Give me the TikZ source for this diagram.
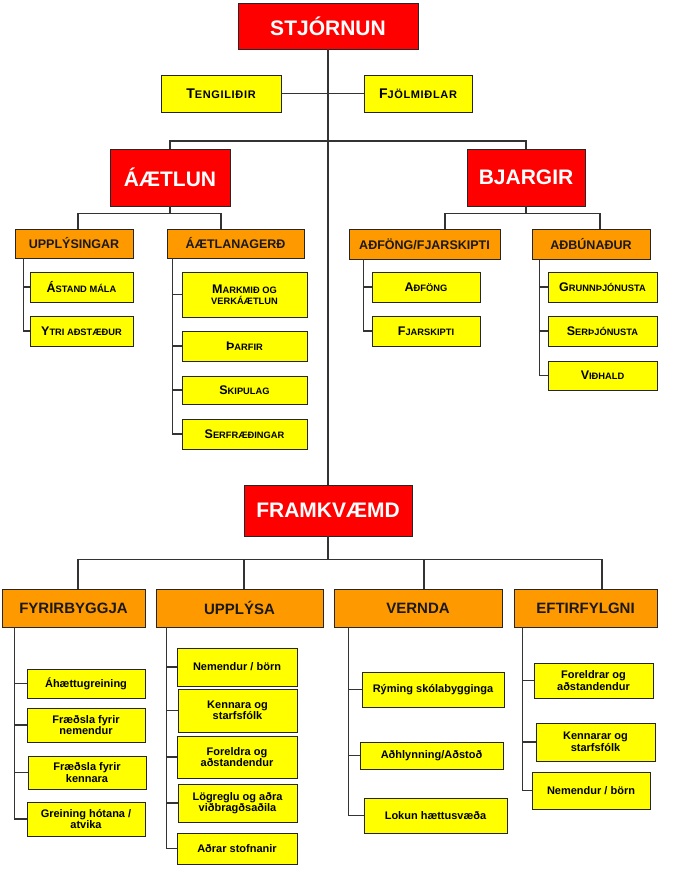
\documentclass[tikz,border=0pt]{standalone}
\usepackage{fontspec}
\setmainfont{Liberation Sans}
\definecolor{boxred}{RGB}{255,0,0}
\definecolor{boxorange}{RGB}{255,153,0}
\definecolor{boxyellow}{RGB}{255,255,0}
\newcommand{\sk}[2]{{\fontsize{12.5}{14}\selectfont #1}{\fontsize{9.3}{12}\selectfont #2}}
\newcommand{\skl}[1]{{\fontsize{9.3}{12}\selectfont #1}}
\newcommand{\skt}[2]{{\fontsize{14}{16}\selectfont #1}{\fontsize{11}{13}\selectfont\addfontfeature{LetterSpace=6}#2}}
\begin{document}
\begin{tikzpicture}[x=1pt,y=-1pt,
		line/.style={draw=black!80,line width=1.2pt},
		redbox/.style={draw=black!85,line width=0.9pt,fill=boxred,text=white,inner sep=1pt,font=\bfseries\fontsize{21}{24}\selectfont},
		orangesm/.style={draw=black!85,line width=0.9pt,fill=boxorange,text=black!90,inner sep=1pt,font=\bfseries\fontsize{12.5}{14}\selectfont},
		orangebox/.style={draw=black!85,line width=0.9pt,fill=boxorange,text=black!90,inner sep=1pt,font=\bfseries\fontsize{15}{17}\selectfont},
		yellowbox/.style={draw=black!85,line width=0.9pt,fill=boxyellow,text=black,inner sep=1pt,align=center,font=\bfseries\fontsize{11}{11.5}\selectfont}]
		\path[fill=white] (0,0) rectangle (680,888);
		\useasboundingbox (0,0) rectangle (680,888);
		\node[redbox,minimum width=180,minimum height=46] (stj) at (328,26) {STJÓRNUN};
		\node[yellowbox,minimum width=120,minimum height=37] (ten) at (221,93.5) {\skt{T}{ENGILIÐIR}};
		\node[yellowbox,minimum width=108,minimum height=37] (fjo) at (418,93.5) {\skt{F}{JÖLMIÐLAR}};
		\node[redbox,minimum width=120,minimum height=57] (aet) at (170,177.5) {ÁÆTLUN};
		\node[redbox,minimum width=118,minimum height=57] (bja) at (526,177.5) {BJARGIR};
		\node[orangesm,minimum width=118,minimum height=29] (upp) at (74,243.5) {UPPLÝSINGAR};
		\node[orangesm,minimum width=137,minimum height=29] (aeg) at (235.5,243.5) {ÁÆTLANAGERÐ};
		\node[orangesm,minimum width=151,minimum height=30] (adf) at (424.5,244) {AÐFÖNG/FJARSKIPTI};
		\node[orangesm,minimum width=118,minimum height=30] (adb) at (591,244) {AÐBÚNAÐUR};
		\node[yellowbox,minimum width=103,minimum height=30] (ast) at (81.5,287) {\sk{Á}{STAND MÁLA}};
		\node[yellowbox,minimum width=103,minimum height=30] (ytr) at (81.5,331) {\sk{Y}{TRI AÐSTÆÐUR}};
		\node[yellowbox,minimum width=125,minimum height=45] (mar) at (244.5,294.5) {\sk{M}{ARKMIÐ OG}\\\skl{VERKÁÆTLUN}};
		\node[yellowbox,minimum width=125,minimum height=30] (tha) at (244.5,346) {\sk{Þ}{ARFIR}};
		\node[yellowbox,minimum width=125,minimum height=28] (ski) at (244.5,390) {\sk{S}{KIPULAG}};
		\node[yellowbox,minimum width=125,minimum height=30] (ser) at (244.5,434) {\sk{S}{ERFRÆÐINGAR}};
		\node[yellowbox,minimum width=108,minimum height=30] (af) at (426,287) {\sk{A}{ÐFÖNG}};
		\node[yellowbox,minimum width=108,minimum height=30] (fj) at (426,331) {\sk{F}{JARSKIPTI}};
		\node[yellowbox,minimum width=109,minimum height=30] (gru) at (602.5,287) {\sk{G}{RUNNÞJÓNUSTA}};
		\node[yellowbox,minimum width=109,minimum height=30] (sth) at (602.5,331) {\sk{S}{ERÞJÓNUSTA}};
		\node[yellowbox,minimum width=109,minimum height=29] (vid) at (602.5,375.5) {\sk{V}{IÐHALD}};
		\node[redbox,minimum width=168,minimum height=51] (fra) at (328,510.5) {FRAMKVÆMD};
		\node[orangebox,minimum width=143,minimum height=38] (fyr) at (73.5,608) {FYRIRBYGGJA};
		\node[orangebox,minimum width=167,minimum height=38] (upl) at (239.5,608) {UPPLÝSA};
		\node[orangebox,minimum width=168,minimum height=38] (ver) at (418,608) {VERNDA};
		\node[orangebox,minimum width=143,minimum height=38] (eft) at (585.5,608) {EFTIRFYLGNI};
		\node[yellowbox,minimum width=118,minimum height=29] (aha) at (86,683.5) {Áhættugreining};
		\node[yellowbox,minimum width=118,minimum height=34] (fne) at (86,725) {Fræðsla fyrir\\nemendur};
		\node[yellowbox,minimum width=118,minimum height=33] (fke) at (87,772.5) {Fræðsla fyrir\\kennara};
		\node[yellowbox,minimum width=118,minimum height=34] (gre) at (86,819) {Greining hótana /\\atvika};
		\node[yellowbox,minimum width=120,minimum height=38] (nbo) at (237,667) {Nemendur / börn};
		\node[yellowbox,minimum width=119,minimum height=43] (kso) at (237.5,710.5) {Kennara og\\starfsfólk};
		\node[yellowbox,minimum width=120,minimum height=42] (fao) at (237,757) {Foreldra og\\aðstandendur};
		\node[yellowbox,minimum width=119,minimum height=38] (log) at (237.5,803) {Lögreglu og aðra\\viðbragðsaðila};
		\node[yellowbox,minimum width=120,minimum height=31] (ads) at (237,848.5) {Aðrar stofnanir};
		\node[yellowbox,minimum width=142,minimum height=35] (rym) at (433,689.5) {Rýming skólabygginga};
		\node[yellowbox,minimum width=143,minimum height=27] (adh) at (431.5,755.5) {Aðhlynning/Aðstoð};
		\node[yellowbox,minimum width=143,minimum height=35] (lok) at (435.5,815.5) {Lokun hættusvæða};
		\node[yellowbox,minimum width=119,minimum height=35] (foa) at (593.5,680.5) {Foreldrar og\\aðstandendur};
		\node[yellowbox,minimum width=119,minimum height=38] (kst) at (595.5,742) {Kennarar og\\starfsfólk};
		\node[yellowbox,minimum width=118,minimum height=37] (nem) at (591,790.5) {Nemendur / börn};
		\coordinate (stj-j) at (328,141);
		\coordinate (upp-t) at ([xshift=4]upp.north);
		\coordinate (aeg-t) at ([xshift=-14.5]aeg.north);
		\coordinate (adf-t) at ([xshift=20.5]adf.north);
		\coordinate (adb-t) at ([xshift=9]adb.north);
		\coordinate (fyr-t) at ([xshift=4.5]fyr.north);
		\coordinate (upl-t) at ([xshift=4.5]upl.north);
		\coordinate (ver-t) at ([xshift=6]ver.north);
		\coordinate (eft-t) at ([xshift=16.5]eft.north);
		\coordinate (upp-b) at ([xshift=9]upp.south west);
		\coordinate (aeg-b) at ([xshift=6]aeg.south west);
		\coordinate (adf-b) at ([xshift=15]adf.south west);
		\coordinate (adb-b) at ([xshift=8]adb.south west);
		\coordinate (fyr-b) at ([xshift=13]fyr.south west);
		\coordinate (upl-b) at ([xshift=11]upl.south west);
		\coordinate (ver-b) at ([xshift=15]ver.south west);
		\coordinate (eft-b) at ([xshift=9]eft.south west);
		\draw[line] (stj.south) -- (fra.north);
		\draw[line] (ten.east) -- (fjo.west);
		\draw[line] (aet.north) |- (stj-j) -| (bja.north);
		\draw[line] (aet.south) -- ++(0,7) coordinate (aet-j);
		\draw[line] (upp-t) |- (aet-j) -| (aeg-t);
		\draw[line] (bja.south) -- ++(0,7) coordinate (bja-j);
		\draw[line] (adf-t) |- (bja-j) -| (adb-t);
		\draw[line] (fra.south) -- ++(0,23) coordinate (fra-j);
		\draw[line] (fyr-t) |- (fra-j) -| (eft-t);
		\draw[line] (upl-t) -- (upl-t |- fra-j);
		\draw[line] (ver-t) -- (ver-t |- fra-j);
		\foreach \c in {ast,ytr} \draw[line] (\c.west) -| (upp-b);
		\foreach \c in {mar,tha,ski,ser} \draw[line] (\c.west) -| (aeg-b);
		\foreach \c in {af,fj} \draw[line] (\c.west) -| (adf-b);
		\foreach \c in {gru,sth,vid} \draw[line] (\c.west) -| (adb-b);
		\foreach \c in {aha,fne,fke,gre} \draw[line] (\c.west) -| (fyr-b);
		\foreach \c in {nbo,kso,fao,log,ads} \draw[line] (\c.west) -| (upl-b);
		\foreach \c in {rym,adh,lok} \draw[line] (\c.west) -| (ver-b);
		\foreach \c in {foa,kst,nem} \draw[line] (\c.west) -| (eft-b);
	\end{tikzpicture}
\end{document}
